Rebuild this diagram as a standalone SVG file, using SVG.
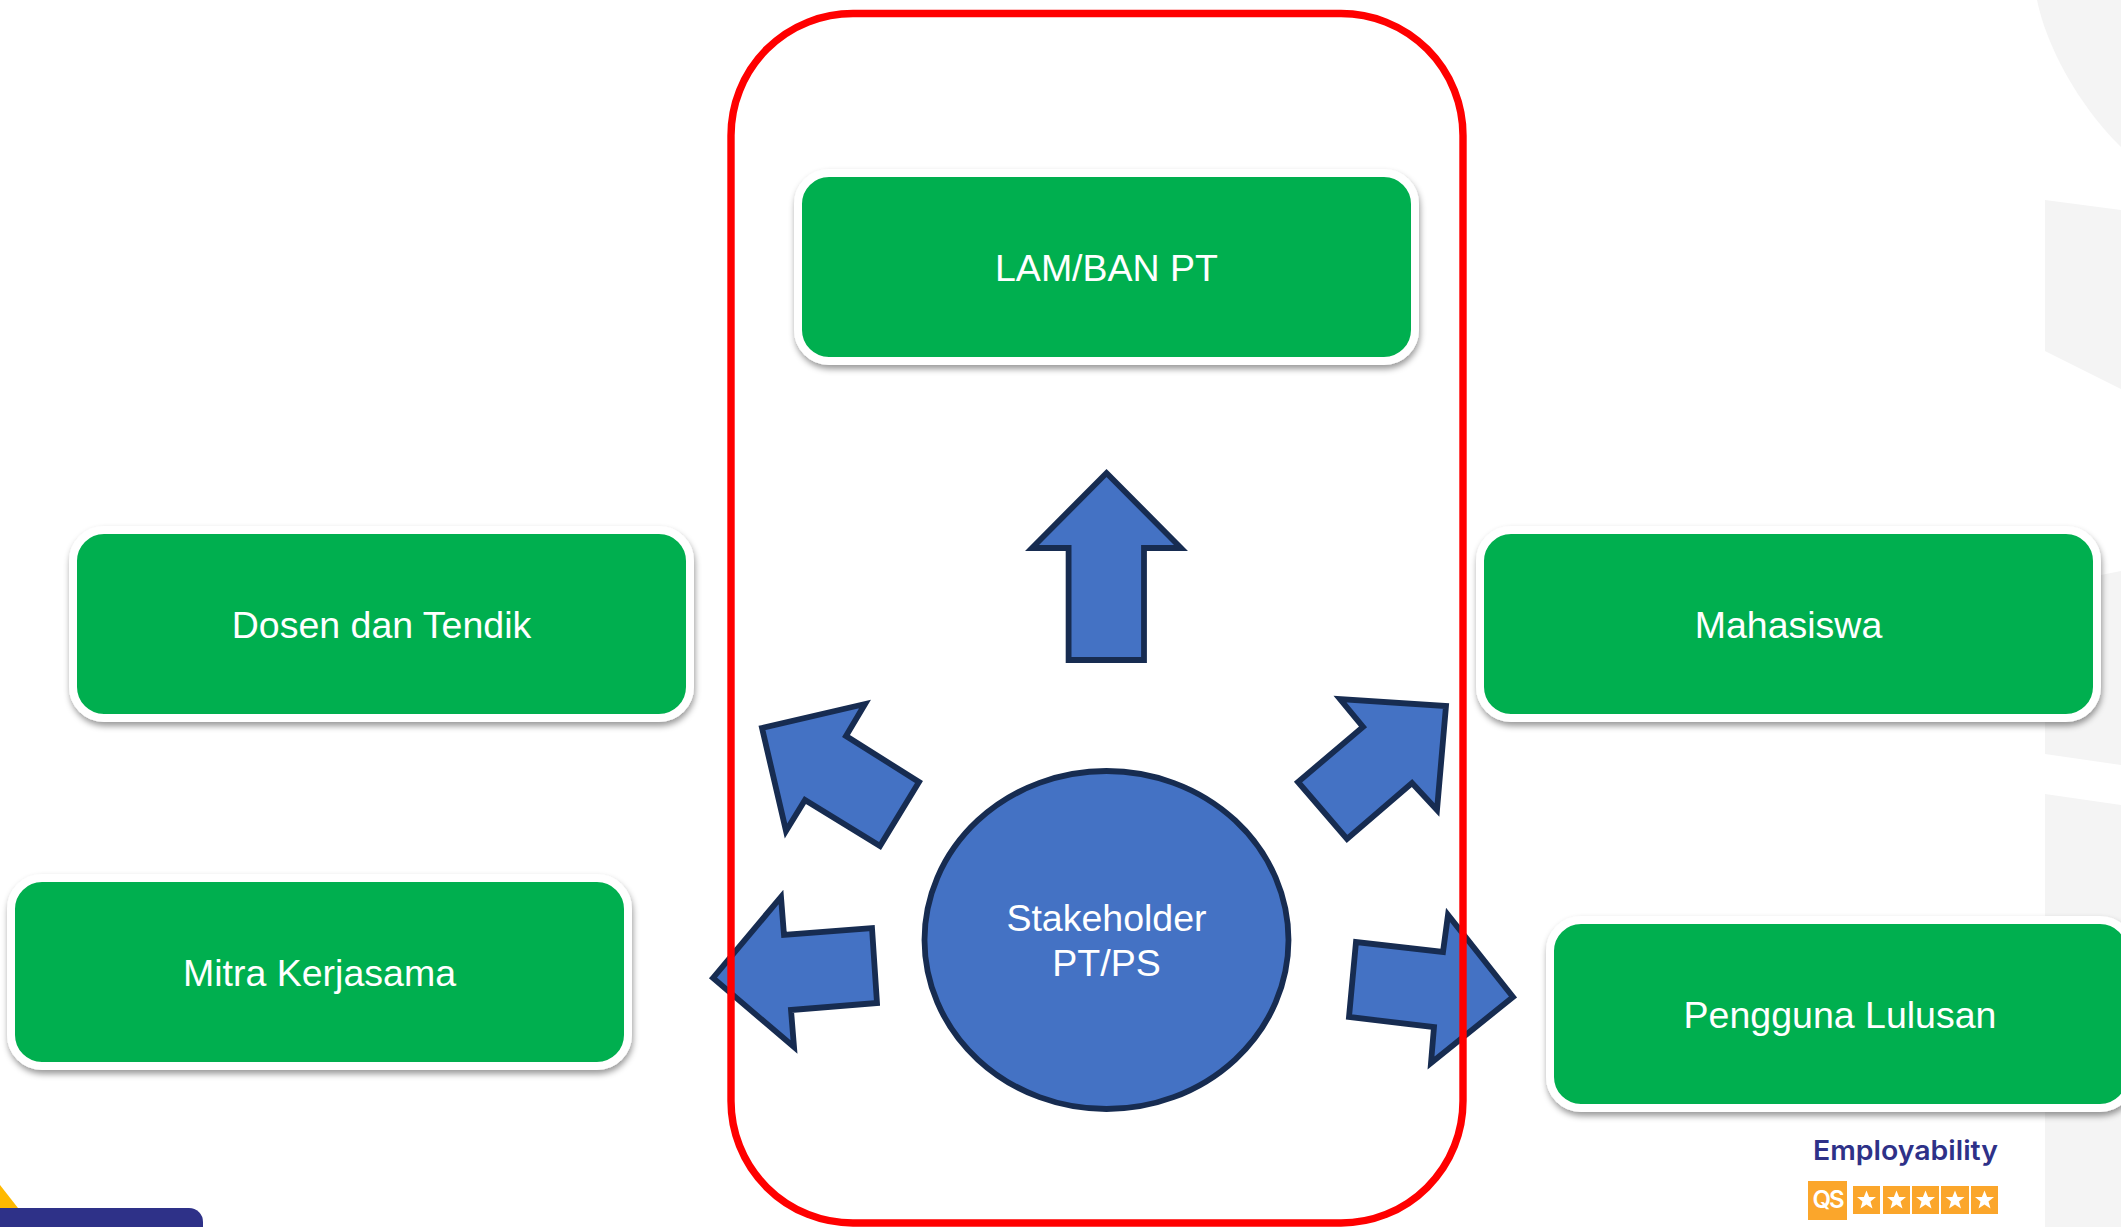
<svg xmlns="http://www.w3.org/2000/svg" width="2121" height="1227" viewBox="0 0 2121 1227">
<style>
.bg{fill:#F4F4F4}
.box{fill:#02AF50;stroke:#fff;stroke-width:8;filter:url(#sh)}
.lbl{font-family:"Liberation Sans",Arial,sans-serif;font-size:37.5px;fill:#fff;text-anchor:middle}
.arrow{fill:#4472C4;stroke:#172C51;stroke-width:5.8;stroke-miterlimit:10}
.star{fill:#FBA62B}
.st{fill:#fff}
</style>
<defs>
<filter id="sh" x="-5%" y="-10%" width="110%" height="125%">
<feDropShadow dx="1" dy="4" stdDeviation="3" flood-color="#000" flood-opacity="0.4"/>
</filter>
<polygon id="s" class="st" points="0,-9.5 2.6,-3 9.5,-3 4,1.4 6,8.5 0,4.4 -6,8.5 -4,1.4 -9.5,-3 -2.6,-3"/>
</defs>
<rect width="2121" height="1227" fill="#fff"/>
<g id="background">
<path class="bg" d="M2037 0C2046 45 2078 105 2121 147V0Z"/>
<path class="bg" d="M2045 200L2121 210V389L2045 351Z"/>
<path class="bg" d="M2045 586L2121 571V765L2045 754Z"/>
<path class="bg" d="M2045 794L2121 805V1227H2045Z"/>
<path fill="#FFB900" d="M0 1185L18 1208H0Z"/>
<path fill="#2E3188" d="M0 1208H189A14 14 0 0 1 203 1222V1227H0Z"/>
</g>
<g id="connectors">
<polygon class="arrow" points="1106.5,473 1181,548 1144,548 1144,660 1068.6,660 1068.6,548 1032,548"/>
<polygon class="arrow" points="762,728 865,704 846,736 919,782 880,846 805,800 786,831"/>
<polygon class="arrow" points="713,978 781,897 784,935 872,928 877,1003 791,1010 794,1047"/>
<polygon class="arrow" points="1446,706 1437,810 1412,783 1347,839 1298,782 1363,727 1340,699"/>
<polygon class="arrow" points="1513,997 1431,1063 1434,1027 1349,1017 1356,942 1443,952 1448,915"/>
</g>
<g id="lam"><rect class="box" x="798" y="173" width="617" height="188" rx="31"/><text class="lbl" x="1106.5" y="281">LAM/BAN PT</text></g>
<g id="dosen"><rect class="box" x="73" y="530" width="617" height="188" rx="31"/><text class="lbl" x="381.5" y="638">Dosen dan Tendik</text></g>
<g id="mahasiswa"><rect class="box" x="1480" y="530" width="617" height="188" rx="31"/><text class="lbl" x="1788.5" y="638">Mahasiswa</text></g>
<g id="mitra"><rect class="box" x="11" y="878" width="617" height="188" rx="31"/><text class="lbl" x="319.5" y="986">Mitra Kerjasama</text></g>
<g id="pengguna"><rect class="box" x="1550" y="920" width="581" height="188" rx="31"/><text class="lbl" x="1840" y="1028">Pengguna Lulusan</text></g>
<g id="stakeholder"><ellipse class="arrow" cx="1106.5" cy="940" rx="182" ry="169"/><text class="lbl" x="1106.5" y="931">Stakeholder</text><text class="lbl" x="1106.5" y="976">PT/PS</text></g>
<g id="frame"><rect x="731" y="13.5" width="732" height="1209.5" rx="122" fill="none" stroke="#FF0000" stroke-width="7.4"/></g>
<g id="logo">
<text x="1813" y="1160" font-family="Inter,'Noto Sans',sans-serif" font-weight="600" font-size="27px" fill="#2E3188" textLength="185" lengthAdjust="spacingAndGlyphs">Employability</text>
<rect class="star" x="1808" y="1181" width="39" height="39"/>
<text x="1827.5" y="1208" font-family="Inter,'Noto Sans',sans-serif" font-weight="600" font-size="24px" letter-spacing="-2" fill="#fff" text-anchor="middle">QS</text>
<rect class="star" x="1853" y="1186" width="27" height="28"/><use href="#s" x="1866.5" y="1200"/>
<rect class="star" x="1883" y="1186" width="27" height="28"/><use href="#s" x="1896.5" y="1200"/>
<rect class="star" x="1912" y="1186" width="27" height="28"/><use href="#s" x="1925.5" y="1200"/>
<rect class="star" x="1941" y="1186" width="28" height="28"/><use href="#s" x="1955" y="1200"/>
<rect class="star" x="1971" y="1186" width="27" height="28"/><use href="#s" x="1984.5" y="1200"/>
</g>
</svg>
